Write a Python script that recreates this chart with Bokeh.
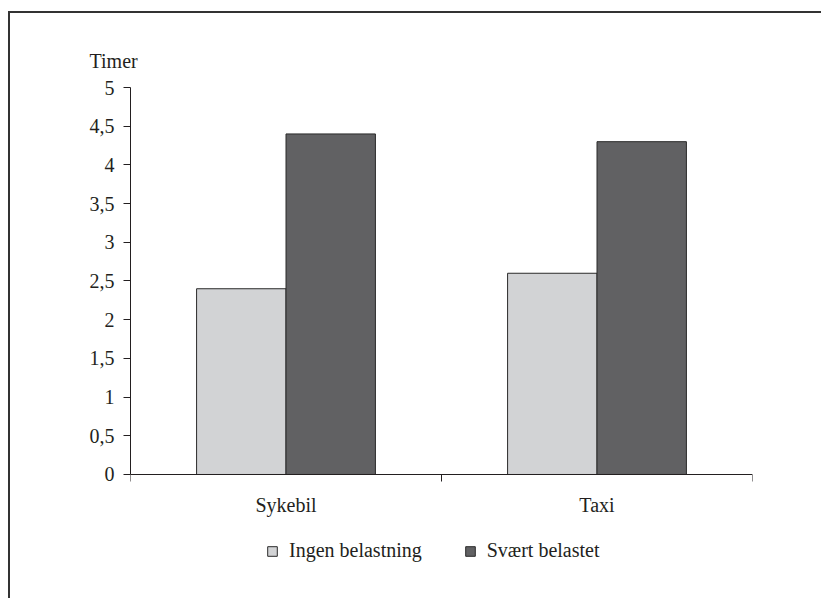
from bokeh.plotting import figure
from bokeh.models import (FixedTicker, CustomJSTickFormatter, Legend, LegendItem,
                          ColumnDataSource, Range1d)
from bokeh.embed import file_html
from bokeh.resources import INLINE

# ---- data ----
categories = ["Sykebil", "Taxi"]
series_names = ["Ingen belastning", "Svært belastet"]
ingen_belastning = [2.4, 2.6]
svaert_belastet = [4.4, 4.3]
y_ticks = [0, 0.5, 1, 1.5, 2, 2.5, 3, 3.5, 4, 4.5, 5]
y_axis_title = "Timer"

# ---- style ----
FONT = "Liberation Serif"
FS = "20px"
TXT = "#231f20"
colors = ["#d2d3d5", "#616163"]
bar_w = 0.2875

centers = [i + 0.5 for i in range(len(categories))]
boundaries = list(range(len(categories) + 1))

src = ColumnDataSource(dict(
    x1=[c - bar_w / 2 for c in centers],
    x2=[c + bar_w / 2 for c in centers],
    a=ingen_belastning,
    b=svaert_belastet,
))

# the frame extends below the zero line so that the legend can sit inside it
p = figure(width=813, height=587,
           x_range=Range1d(0, len(categories)), y_range=Range1d(-1.628, 5),
           output_backend="svg", toolbar_location=None,
           min_border_left=120, min_border_right=71,
           min_border_top=74, min_border_bottom=0)

r1 = p.vbar(x="x1", top="a", bottom=0, width=bar_w, source=src,
            fill_color=colors[0], line_color="#2a2a2a", line_width=1)
r2 = p.vbar(x="x2", top="b", bottom=0, width=bar_w, source=src,
            fill_color=colors[1], line_color="#2a2a2a", line_width=1)

p.xgrid.visible = False
p.ygrid.visible = False
p.outline_line_color = None
p.background_fill_color = "white"
p.border_fill_color = "white"

# x axis, pinned at y = 0
xa = p.xaxis[0]
xa.fixed_location = 0
xa.ticker = FixedTicker(ticks=centers, minor_ticks=boundaries)
xa.major_label_overrides = {c: cat for c, cat in zip(centers, categories)}
xa.major_tick_in = 0
xa.major_tick_out = 0
xa.minor_tick_in = 0
xa.minor_tick_out = 7
xa.minor_tick_line_color = TXT
xa.axis_line_color = TXT
xa.major_label_standoff = 13
xa.major_label_text_font = FONT
xa.major_label_text_font_size = FS
xa.major_label_text_color = TXT

# y axis
ya = p.yaxis[0]
ya.bounds = (0, 5)
ya.ticker = FixedTicker(ticks=y_ticks)
ya.formatter = CustomJSTickFormatter(code="return String(tick).replace('.', ',');")
ya.major_tick_in = 0
ya.major_tick_out = 7
ya.major_tick_line_color = TXT
ya.axis_line_color = TXT
ya.major_label_standoff = 9
ya.major_label_text_font = FONT
ya.major_label_text_font_size = FS
ya.major_label_text_color = TXT

# "Timer" title above axis
p.title.text = y_axis_title
p.title.align = "left"
p.title.offset = -41
p.title.text_font = FONT
p.title.text_font_size = FS
p.title.text_font_style = "normal"
p.title.text_color = TXT
p.title.standoff = 31

legend = Legend(items=[LegendItem(label=series_names[0], renderers=[r1]),
                       LegendItem(label=series_names[1], renderers=[r2])],
                orientation="horizontal", location=(136, 38),
                border_line_color=None, background_fill_alpha=0,
                glyph_width=12, glyph_height=12, label_standoff=11, spacing=42,
                label_text_font=FONT, label_text_font_size=FS,
                label_text_color=TXT, margin=0, padding=10)
p.add_layout(legend, "center")

# page frame: top and left edges only (drawn as an offset shadow)
p.styles = {"box-shadow": "-2px -2px 0 0 #333",
            "margin-left": "10px", "margin-top": "13px"}

open("out.html", "w").write(file_html(p, INLINE))
